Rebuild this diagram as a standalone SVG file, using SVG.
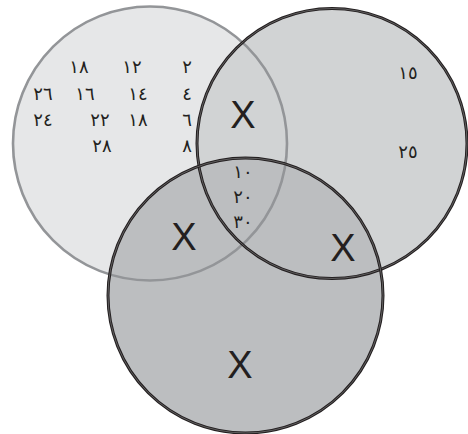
<svg xmlns="http://www.w3.org/2000/svg" width="468" height="434" viewBox="0 0 468 434">
<style>
.num{font-family:"DejaVu Sans","Noto Sans",sans-serif;font-size:18px;fill:#231f20;text-anchor:middle;letter-spacing:2px}
.x{font-family:"Liberation Sans",Arial,sans-serif;font-size:38px;fill:#231f20;text-anchor:middle}
.blk{fill:none;stroke:#231f20;stroke-width:3}
.inner{fill:none;stroke:#8a8a8a;stroke-width:0.6}
</style>
<rect width="468" height="434" fill="#ffffff"/>
<g id="fills">
<circle cx="150" cy="143.5" r="137" fill="#e6e7e8"/>
<circle cx="332" cy="143.5" r="135" fill="#d1d3d4"/>
<circle cx="245.5" cy="295.5" r="137.5" fill="#bcbec0"/>
</g>
<g id="setA">
<circle cx="150" cy="143.5" r="137" fill="none" stroke="#939598" stroke-width="2.6"/>
<text class="num" x="79" y="73">١٨</text>
<text class="num" x="132" y="73">١٢</text>
<text class="num" x="187" y="73">٢</text>
<text class="num" x="43" y="100">٢٦</text>
<text class="num" x="85" y="100">١٦</text>
<text class="num" x="138" y="100">١٤</text>
<text class="num" x="187" y="100">٤</text>
<text class="num" x="43" y="126">٢٤</text>
<text class="num" x="100" y="126">٢٢</text>
<text class="num" x="138" y="126">١٨</text>
<text class="num" x="187" y="126">٦</text>
<text class="num" x="102" y="152">٢٨</text>
<text class="num" x="187" y="152">٨</text>
</g>
<g id="setB">
<circle class="blk" cx="332" cy="143.5" r="135"/>
<circle class="inner" cx="332" cy="143.5" r="135"/>
<text class="num" x="408" y="79">١٥</text>
<text class="num" x="408" y="158">٢٥</text>
</g>
<g id="setC">
<circle class="blk" cx="245.5" cy="295.5" r="137.5"/>
<circle class="inner" cx="245.5" cy="295.5" r="137.5"/>
<text class="x" x="240" y="378">X</text>
</g>
<g id="intersections">
<text class="x" x="243" y="128">X</text>
<text class="x" x="184" y="250">X</text>
<text class="x" x="343" y="261">X</text>
<text class="num" x="243" y="178">١٠</text>
<text class="num" x="243" y="203">٢٠</text>
<text class="num" x="243" y="228">٣٠</text>
</g>
</svg>
